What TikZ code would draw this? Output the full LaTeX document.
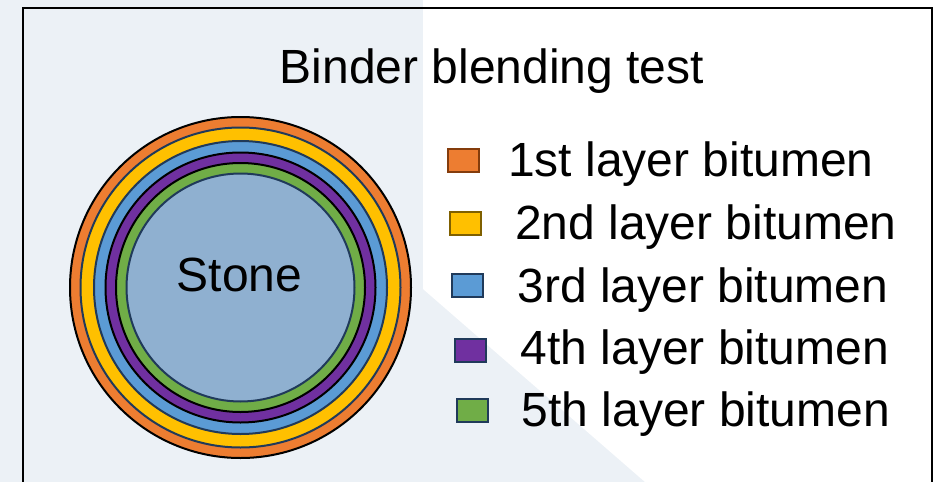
\documentclass[tikz,border=0pt]{standalone}
\usepackage{fontspec}
\setmainfont{Liberation Sans}
\usetikzlibrary{positioning}

\definecolor{bgblue}{HTML}{ECF1F6}
\definecolor{stoneblue}{HTML}{8FB0D0}
\definecolor{orangeL}{HTML}{ED7D31}
\definecolor{yellowL}{HTML}{FFC000}
\definecolor{blueL}{HTML}{5B9BD5}
\definecolor{purpleL}{HTML}{7030A0}
\definecolor{greenL}{HTML}{70AD47}
\definecolor{navy}{HTML}{203A5A}
\definecolor{brownL}{HTML}{843C0C}
\definecolor{goldL}{HTML}{7F6000}

\begin{document}
\begin{tikzpicture}
[x=1pt, y=-1pt, font=\fontsize{48}{58}\selectfont,
% STYLES
% The ring style is used to draw each bitumen layer around the stone
ring/.style={circle, inner sep=0pt, line width=2pt},
% The key style is used to draw the small squares of the legend
key/.style={rectangle, inner sep=0pt, minimum width=31pt, minimum height=23pt, line width=2pt},
% The entry style is used to write the legend texts
entry/.style={anchor=base west, inner sep=0pt}]

% Background
\useasboundingbox (0,0) rectangle (940,482);
\fill[bgblue] (0,0) rectangle (940,482);
\fill[white] (423,0) -- (940,0) -- (940,482) -- (645,482) -- (423,289) -- cycle;
\draw[line width=2pt] (23,520) -- (23,7.5) -- (932,7.5) -- (932,520);

% Title
\node[entry] (title) at (279.5,83) {Binder blending test};

% Draw layers
\coordinate (centre) at (240.5,287.5);
\node[ring, draw=black, fill=orangeL, minimum size=341pt] (layer1) at (centre) {};
\node[ring, draw=navy, fill=yellowL, minimum size=320pt] (layer2) at (centre) {};
\node[ring, draw=navy, fill=blueL, minimum size=293pt] (layer3) at (centre) {};
\node[ring, draw=black, fill=purpleL, minimum size=270pt] (layer4) at (centre) {};
\node[ring, draw=black, fill=greenL, minimum size=249pt] (layer5) at (centre) {};
\node[ring, draw=navy, fill=stoneblue, minimum size=228pt] (stone) at (centre) {};
\node[inner sep=0pt, anchor=base] (stone-label) at (239.5,291.7) {Stone};

%%%%%%%%%%%%%%%
% Legend

\node[key, draw=brownL, fill=orangeL] (key1) at (463.5,160.8) {};
\node[entry] (entry1) at (508,176.7) {1st layer bitumen};

\node[key, draw=goldL, fill=yellowL] (key2) at (465.3,223) {};
\node[entry] (entry2) at (515,239) {2nd layer bitumen};

\node[key, draw=navy, fill=blueL] (key3) at (467,285.8) {};
\node[entry] (entry3) at (517.3,302) {3rd layer bitumen};

\node[key, draw=navy, fill=purpleL] (key4) at (470.3,350.2) {};
\node[entry] (entry4) at (520.5,364) {4th layer bitumen};

\node[key, draw=navy, fill=greenL] (key5) at (472,410.8) {};
\node[entry] (entry5) at (521.5,426) {5th layer bitumen};

%%%%%%%%%%%%%%%

\end{tikzpicture}
\end{document}
